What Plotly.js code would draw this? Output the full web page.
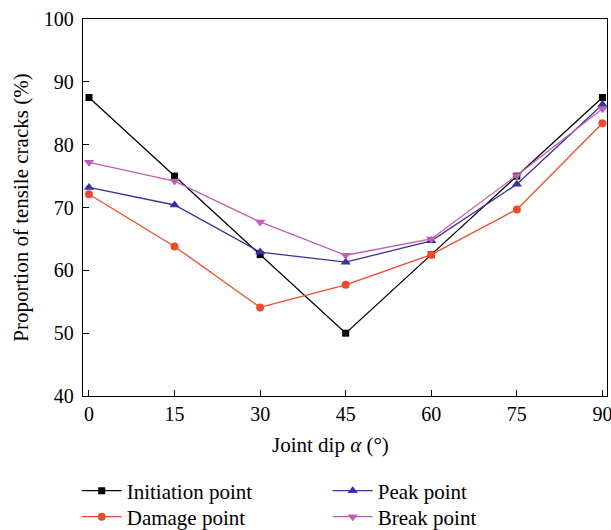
<!DOCTYPE html>
<html>
<head>
<meta charset="utf-8">
<script src="https://cdn.plot.ly/plotly-3.0.1.min.js"></script>
<style>
  html, body { margin: 0; padding: 0; background: #fff; }
  #chart { width: 611px; height: 530px; }
</style>
</head>
<body>
<div id="chart"></div>
<script>
// Joint dip angles (degrees)
const jointDip = [0, 15, 30, 45, 60, 75, 90];

// Proportion of tensile cracks (%) at each stage
const initiationPoint = [87.5, 75.0, 62.5, 50.0, 62.5, 75.0, 87.5];
const damagePoint     = [72.1, 63.8, 54.1, 57.7, 62.5, 69.7, 83.4];
const peakPoint       = [73.2, 70.4, 62.9, 61.3, 64.7, 73.7, 86.4];
const breakPoint      = [77.2, 74.2, 67.7, 62.4, 65.0, 75.1, 85.7];

const xTicks = [0, 15, 30, 45, 60, 75, 90];
const yTicks = [40, 50, 60, 70, 80, 90, 100];

const FONT = 'Liberation Serif, Times New Roman, serif';

function series(name, y, color, symbol, size, legendId, rank) {
  return {
    x: jointDip, y: y, name: name, type: 'scatter', mode: 'lines+markers',
    line: { color: color, width: 1.3 },
    marker: { color: color, symbol: symbol, size: size },
    legend: legendId,
    legendrank: rank
  };
}

const traces = [
  series('Initiation point', initiationPoint, '#000000', 'square', 7, 'legend', 1),
  series('Damage point', damagePoint, '#ef4a2a', 'circle', 8, 'legend2', 1),
  series('Peak point', peakPoint, '#3a30a0', 'triangle-up', 9, 'legend', 2),
  series('Break point', breakPoint, '#c45cb6', 'triangle-down', 9, 'legend2', 2)
];

// two single-row legends stacked under the x-axis title
function legendRow(y) {
  return {
    orientation: 'h',
    x: -0.012, xanchor: 'left',
    y: y, yanchor: 'middle',
    entrywidth: 196, entrywidthmode: 'pixels',
    font: { family: FONT, size: 21 },
    itemwidth: 40,
    bgcolor: 'rgba(0,0,0,0)'
  };
}

const layout = {
  width: 611, height: 530,
  margin: { l: 83, r: 4, t: 19, b: 134, autoexpand: false },
  paper_bgcolor: '#fff', plot_bgcolor: '#fff',
  font: { family: FONT, size: 20, color: '#000' },
  showlegend: true,
  xaxis: {
    range: [-1.05, 90.8],
    tickvals: xTicks,
    ticktext: xTicks.map(String),
    ticks: 'inside', ticklen: 6, tickwidth: 1, tickcolor: '#000',
    showline: true, linecolor: '#000', linewidth: 1.3, mirror: true,
    showgrid: false, zeroline: false,
    ticklabeloverflow: 'allow',
    tickfont: { family: FONT, size: 20 },
    title: { text: '' }
  },
  yaxis: {
    range: [40, 100],
    tickvals: yTicks,
    ticktext: yTicks.map(String),
    ticks: 'inside', ticklen: 6, tickwidth: 1, tickcolor: '#000',
    showline: true, linecolor: '#000', linewidth: 1.3, mirror: true,
    showgrid: false, zeroline: false,
    ticklabeloverflow: 'allow',
    ticklabelstandoff: 4,
    tickfont: { family: FONT, size: 20 },
    title: { text: 'Proportion of tensile cracks (%)', font: { family: FONT, size: 21 }, standoff: 9 }
  },
  annotations: [{
    xref: 'paper', yref: 'paper', x: 0.473, y: -0.13,
    xanchor: 'center', yanchor: 'middle', showarrow: false,
    text: 'Joint dip <i>α</i> (°)',
    font: { family: FONT, size: 21, color: '#000' }
  }],
  legend: legendRow(-0.252),
  legend2: legendRow(-0.321)
};

Plotly.newPlot('chart', traces, layout, { displayModeBar: false, staticPlot: true });
</script>
</body>
</html>
